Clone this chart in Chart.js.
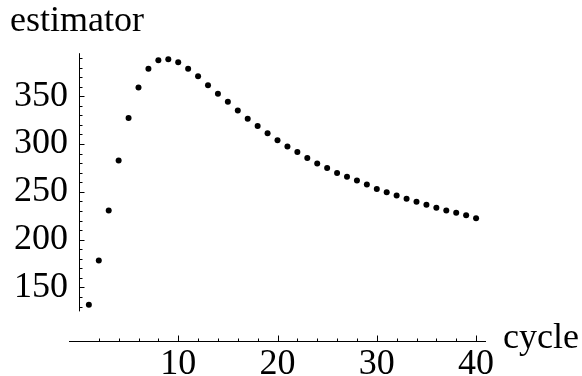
<!DOCTYPE html>
<html lang="en">
<head>
<meta charset="UTF-8">
<title>estimator</title>
<script src="https://cdn.jsdelivr.net/npm/chart.js"></script>
<style>
  html, body { margin: 0; padding: 0; background: #fff; }
</style>
</head>
<body>
<canvas id="estimatorChart" width="582" height="376"></canvas>
<script>
// values
const cycles = [1, 2, 3, 4, 5, 6, 7, 8, 9, 10,
                11, 12, 13, 14, 15, 16, 17, 18, 19, 20,
                21, 22, 23, 24, 25, 26, 27, 28, 29, 30,
                31, 32, 33, 34, 35, 36, 37, 38, 39, 40];
const estimator = [131.9, 178.3, 230.6, 282.8, 327.2, 359.1, 378.7, 387.7, 388.7, 385.6,
                   378.7, 370.9, 361.5, 352.5, 344.1, 335.0, 326.5, 318.8, 311.2, 303.9,
                   297.5, 291.6, 285.4, 279.7, 275.0, 269.8, 265.7, 261.8, 257.6, 253.1,
                   249.6, 246.2, 242.7, 239.6, 236.4, 233.3, 230.5, 228.1, 225.6, 222.4];
const xTicks = [10, 20, 30, 40];
const yTicks = [150, 200, 250, 300, 350];
const xRange = [-1, 41];
const yRange = [125, 395];   // extent of the vertical axis line
const xAxisAt = 94;          // horizontal axis sits below the data range

const serif = '"Liberation Serif", "DejaVu Serif", serif';

// Mathematica style axes: lines with small inward ticks
const axesPlugin = {
    id: 'mmaAxes',
    afterDraw(chart) {
        const {ctx, chartArea, scales: {x, y}} = chart;
        ctx.save();
        ctx.strokeStyle = '#000';
        ctx.lineWidth = 1;
        ctx.beginPath();

        const yb = Math.round(y.getPixelForValue(xAxisAt)) + 0.5;
        ctx.moveTo(x.getPixelForValue(xRange[0]), yb);
        ctx.lineTo(x.getPixelForValue(xRange[1]), yb);
        for (let v = 2; v <= 40; v += 2) {
            const px = Math.round(x.getPixelForValue(v)) + 0.5;
            ctx.moveTo(px, yb);
            ctx.lineTo(px, yb - (v % 10 === 0 ? 6 : 3));
        }

        const x0 = Math.round(x.getPixelForValue(0)) + 0.5;
        ctx.moveTo(x0, y.getPixelForValue(yRange[0]));
        ctx.lineTo(x0, y.getPixelForValue(yRange[1]));
        for (let v = 130; v <= 390; v += 10) {
            const py = Math.round(y.getPixelForValue(v)) + 0.5;
            ctx.moveTo(x0, py);
            ctx.lineTo(x0 + (v % 50 === 0 ? 5 : 3), py);
        }
        ctx.stroke();

        ctx.fillStyle = '#000';
        ctx.font = '36px ' + serif;
        ctx.textAlign = 'left';
        ctx.textBaseline = 'alphabetic';
        ctx.fillText('cycle', chartArea.right + 17, yb + 6);
        ctx.restore();
    }
};

const ctx = document.getElementById('estimatorChart').getContext('2d');
new Chart(ctx, {
    type: 'scatter',
    data: {
        datasets: [{
            data: cycles.map((c, i) => ({x: c, y: estimator[i]})),
            pointRadius: 3,
            pointBorderWidth: 0,
            pointBackgroundColor: '#000',
            showLine: false
        }]
    },
    options: {
        responsive: false,
        animation: false,
        devicePixelRatio: 1,
        layout: {padding: {left: 10, right: 96, top: 0, bottom: 0}},
        plugins: {
            legend: {display: false},
            tooltip: {enabled: false},
            title: {
                display: true,
                text: 'estimator',
                align: 'start',
                color: '#000',
                font: {family: serif, size: 36, weight: 'normal'},
                padding: {top: 0, bottom: 10}
            }
        },
        scales: {
            x: {
                type: 'linear',
                min: xRange[0],
                max: xRange[1],
                afterBuildTicks: s => { s.ticks = xTicks.map(v => ({value: v})); },
                afterFit: s => { s.height = 35; },
                grid: {display: false, drawTicks: false},
                border: {display: false},
                ticks: {
                    color: '#000',
                    font: {family: serif, size: 36},
                    padding: 2,
                    maxRotation: 0,
                    autoSkip: false
                }
            },
            y: {
                type: 'linear',
                min: xAxisAt,
                max: yRange[1],
                afterBuildTicks: s => { s.ticks = yTicks.map(v => ({value: v})); },
                afterFit: s => { s.width = 59; },
                grid: {display: false, drawTicks: false},
                border: {display: false},
                ticks: {
                    color: '#000',
                    font: {family: serif, size: 36},
                    padding: 1,
                    autoSkip: false
                }
            }
        }
    },
    plugins: [axesPlugin]
});
</script>
</body>
</html>
